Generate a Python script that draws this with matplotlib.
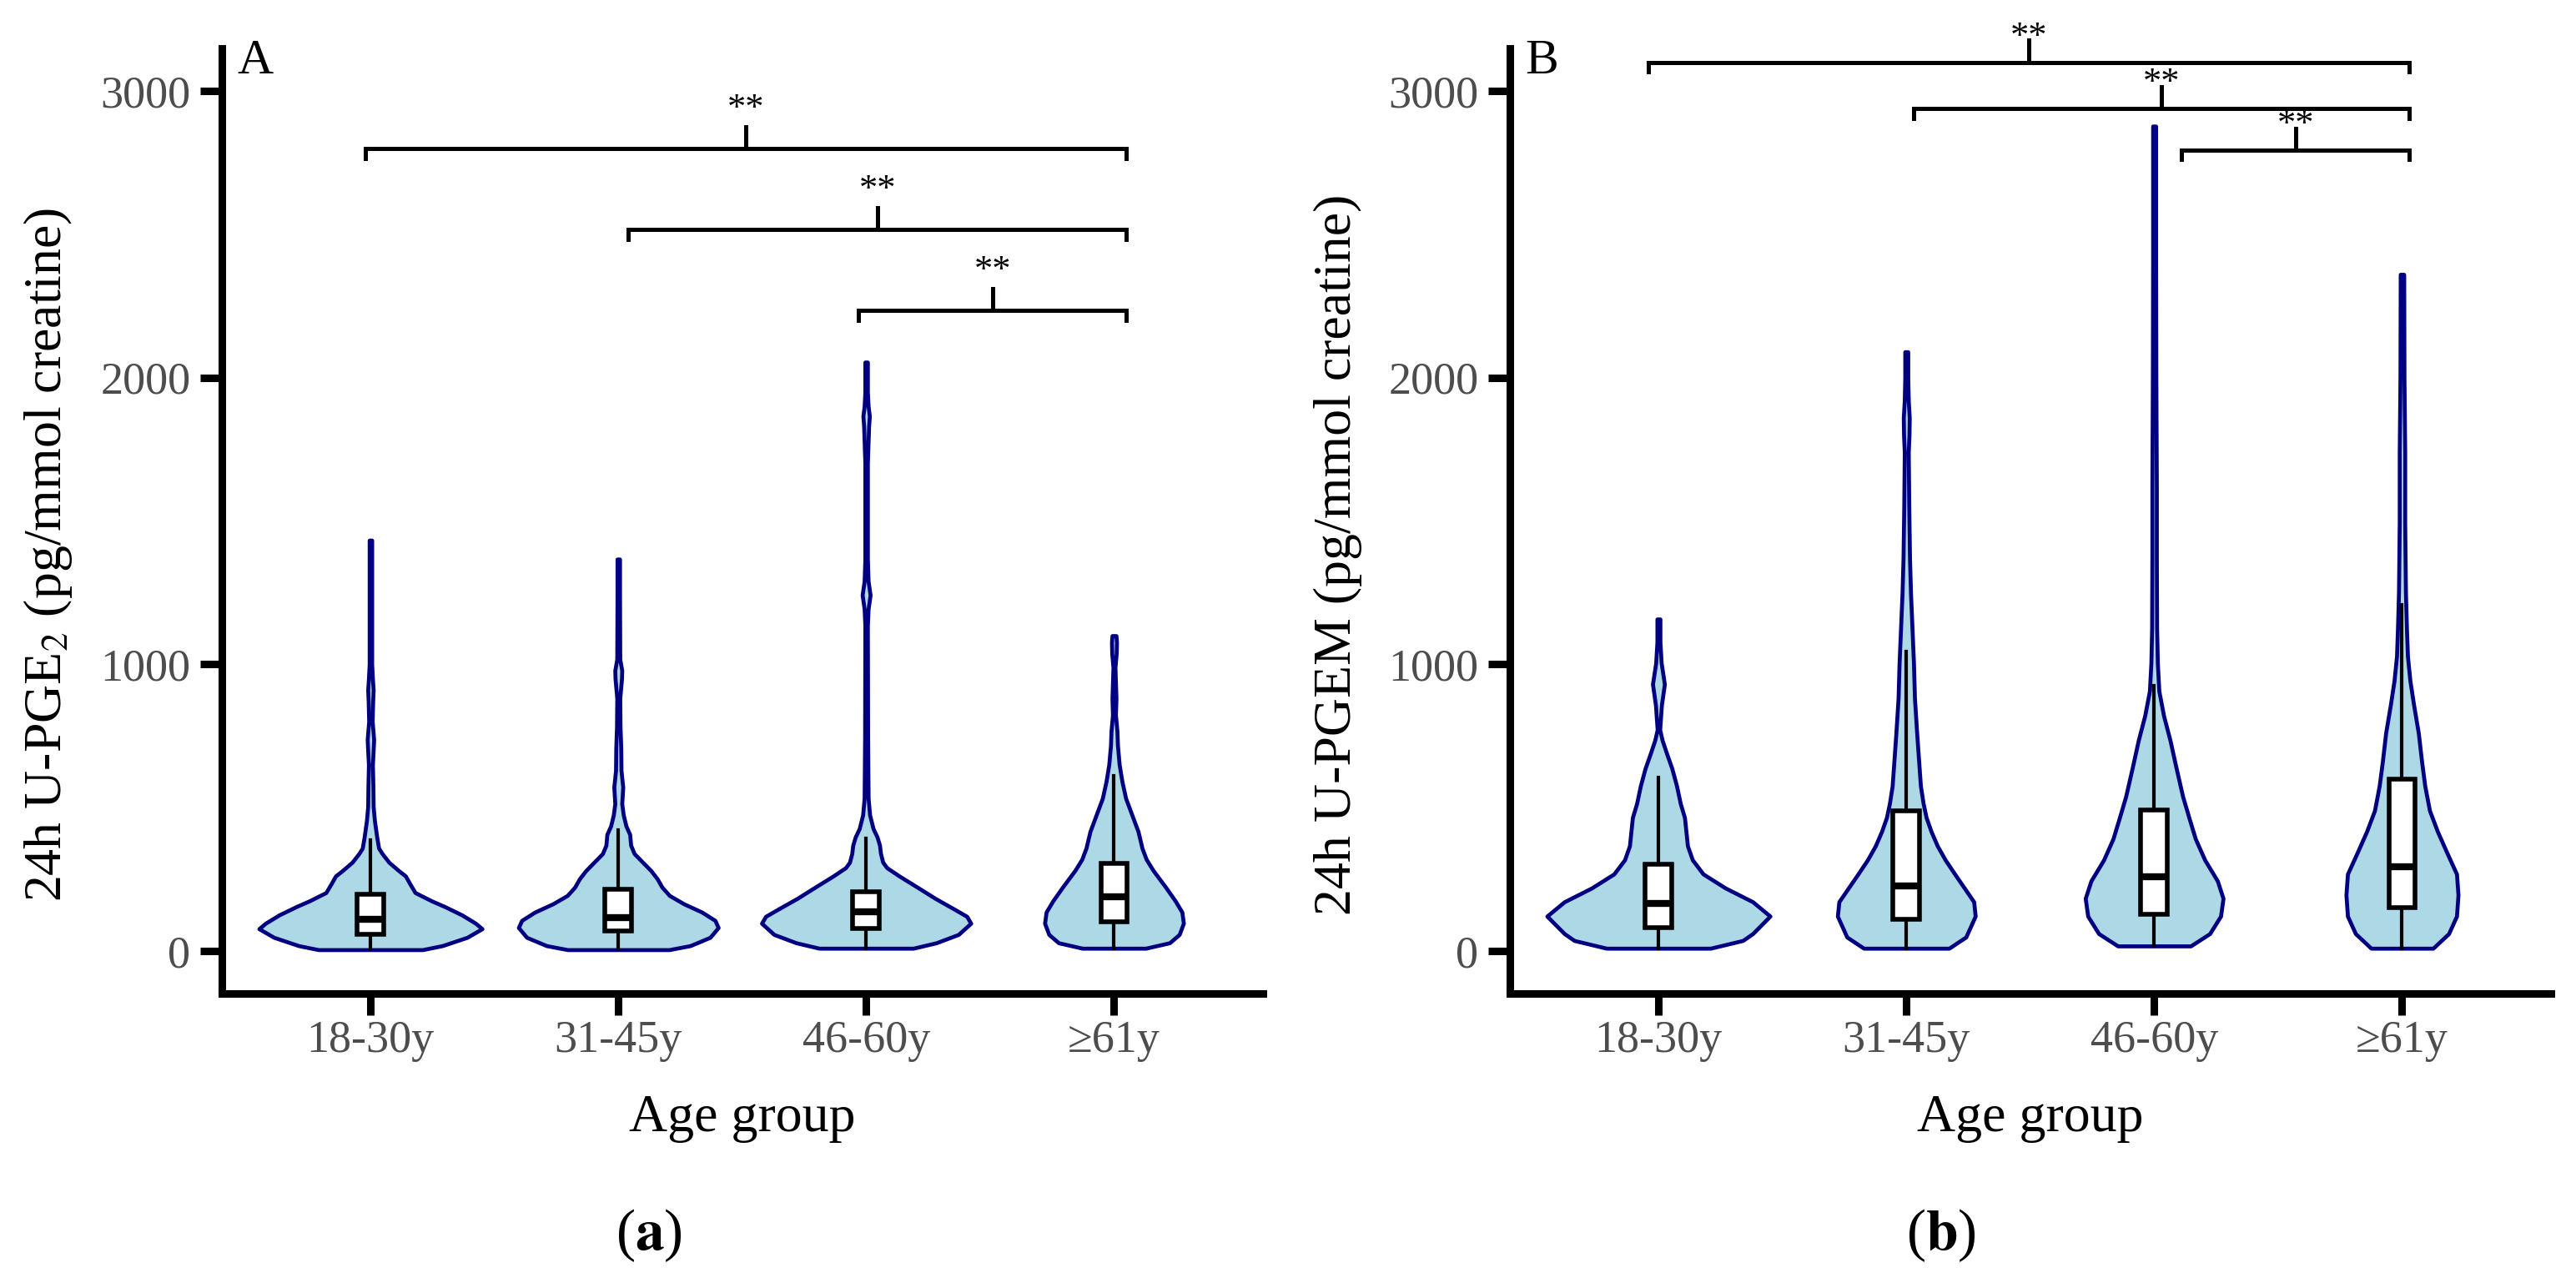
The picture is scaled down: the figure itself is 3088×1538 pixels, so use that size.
import matplotlib
matplotlib.use('Agg')
import matplotlib.pyplot as plt

plt.rcParams['font.family'] = 'Liberation Serif'
plt.rcParams['mathtext.fontset'] = 'stix'

# Categories
groups = ['18-30y', '31-45y', '46-60y', '≥61y']

# Violin outlines: value and half width (x units)
pge2_v = [
    [5, 19, 48, 78, 97, 126, 155, 175, 204, 233, 262, 281, 310, 340, 359, 400, 456, 504, 572, 650,
     700, 737, 770, 800, 870, 911, 950, 1000, 1200, 1433],
    [5, 19, 48, 82, 107, 136, 165, 194, 223, 252, 281, 310, 340, 369, 407, 436, 475, 514, 572, 630,
     708, 785, 882, 950, 979, 1018, 1232, 1367],
    [10, 29, 58, 97, 121, 146, 184, 223, 262, 291, 310, 340, 369, 398, 427, 475, 533, 747, 1135, 1193,
     1242, 1290, 1368, 1700, 1830, 1866, 1900, 1950, 2054],
    [10, 29, 58, 97, 136, 175, 223, 281, 320, 359, 417, 475, 533, 592, 650, 718, 766, 824, 882, 989,
     1038, 1077, 1100],
]
pge2_w = [
    [0.21, 0.29, 0.39, 0.45, 0.424, 0.369, 0.30, 0.247, 0.18, 0.16, 0.141, 0.113, 0.074, 0.047, 0.033,
     0.025, 0.016, 0.011, 0.01, 0.008, 0.011, 0.013, 0.01, 0.007, 0.009, 0.011, 0.008, 0.005, 0.005, 0.005],
    [0.205, 0.29, 0.37, 0.403, 0.39, 0.337, 0.264, 0.206, 0.176, 0.157, 0.131, 0.098, 0.064, 0.05, 0.046,
     0.031, 0.02, 0.014, 0.018, 0.011, 0.01, 0.007, 0.006, 0.013, 0.014, 0.006, 0.005, 0.005],
    [0.19, 0.283, 0.372, 0.422, 0.406, 0.356, 0.278, 0.206, 0.133, 0.083, 0.067, 0.058, 0.054, 0.044,
     0.028, 0.014, 0.008, 0.006, 0.005, 0.008, 0.016, 0.008, 0.005, 0.005, 0.01, 0.013, 0.008, 0.005, 0.005],
    [0.128, 0.224, 0.263, 0.28, 0.274, 0.247, 0.208, 0.158, 0.13, 0.113, 0.097, 0.072, 0.047, 0.032,
     0.021, 0.014, 0.012, 0.006, 0.008, 0.004, 0.009, 0.01, 0.008],
]
pgem_v = [
    [10, 37, 61, 122, 172, 220, 269, 318, 367, 417, 466, 515, 576, 637, 686, 735, 772, 858, 931, 1005,
     1078, 1158],
    [10, 49, 122, 172, 220, 269, 318, 367, 417, 466, 515, 576, 637, 760, 882, 1005, 1127, 1250, 1372,
     1557, 1740, 1800, 1860, 1920, 2000, 2090],
    [18, 61, 122, 184, 245, 318, 392, 466, 539, 637, 735, 821, 907, 1005, 1127, 1372, 1617, 2000, 2400, 2877],
    [10, 61, 122, 196, 269, 343, 417, 490, 576, 662, 760, 858, 943, 1029, 1127, 1250, 1495, 1740, 2000, 2360],
]
pgem_w = [
    [0.21, 0.34, 0.38, 0.45, 0.38, 0.27, 0.18, 0.137, 0.117, 0.111, 0.105, 0.088, 0.073, 0.054, 0.034,
     0.015, 0.005, 0.012, 0.024, 0.011, 0.006, 0.006],
    [0.172, 0.24, 0.278, 0.272, 0.234, 0.195, 0.157, 0.125, 0.1, 0.08, 0.068, 0.057, 0.052, 0.042, 0.033,
     0.029, 0.023, 0.017, 0.013, 0.01, 0.008, 0.011, 0.012, 0.008, 0.006, 0.006],
    [0.147, 0.224, 0.268, 0.278, 0.255, 0.204, 0.166, 0.14, 0.115, 0.089, 0.064, 0.038, 0.019, 0.013,
     0.01, 0.009, 0.009, 0.007, 0.006, 0.006],
    [0.125, 0.188, 0.22, 0.226, 0.22, 0.181, 0.143, 0.111, 0.092, 0.079, 0.066, 0.047, 0.032, 0.022,
     0.018, 0.014, 0.011, 0.011, 0.008, 0.007],
]

# Box plot stats: whisker low, q1, median, q3, whisker high
pge2_box = [[5, 58, 111, 199, 388], [5, 70, 116, 215, 422], [10, 78, 136, 206, 393], [10, 102, 189, 305, 611]]
pgem_box = [[10, 83, 165, 304, 606], [10, 110, 227, 490, 1044], [18, 129, 260, 493, 925], [10, 153, 294, 600, 1207]]

# Significance brackets: x start, x end, bracket height
pge2_sig = [(0.98, 4.05, 2798), (2.04, 4.05, 2516), (2.97, 4.05, 2234)]
pgem_sig = [(0.96, 4.03, 3099), (2.03, 4.03, 2938), (3.11, 4.03, 2793)]

fig = plt.figure(figsize=(30.88, 15.38), dpi=100)
axA = fig.add_axes([0.0861, 0.2256, 0.4041, 0.7367])
axB = fig.add_axes([0.5861, 0.2256, 0.4041, 0.7367])


def draw_panel(ax, vals, widths, boxes, sigs, ylabel, letter, star_off):
    for i in range(4):
        pos = i + 1
        left = [pos - w for w in widths[i]]
        right = [pos + w for w in widths[i]]
        ax.fill_betweenx(vals[i], left, right, facecolor='lightblue', edgecolor='navy', lw=3.4, zorder=2)
    stats = []
    for b in boxes:
        stats.append({'whislo': b[0], 'q1': b[1], 'med': b[2], 'q3': b[3], 'whishi': b[4], 'fliers': []})
    ax.bxp(stats, positions=[1, 2, 3, 4], widths=0.107, showcaps=False, showfliers=False,
           patch_artist=True,
           boxprops=dict(facecolor='white', edgecolor='black', lw=4.0),
           medianprops=dict(color='black', lw=6, solid_capstyle='butt'),
           whiskerprops=dict(color='black', lw=3.0),
           zorder=3)
    for x1, x2, y in sigs:
        xc = (x1 + x2) / 2
        ax.plot([x1, x1, x2, x2], [y - 33, y, y, y - 33], color='black', lw=3.6, clip_on=False,
                solid_joinstyle='miter', zorder=4)
        ax.plot([xc, xc], [y, y + 77], color='black', lw=3.6, clip_on=False, zorder=4)
        ax.text(xc, y + star_off, '**', ha='center', va='baseline', fontsize=32, clip_on=False)

    ax.set_xlim(0.4, 4.6)
    ax.set_ylim(-148, 3148)
    ax.set_xticks([1, 2, 3, 4])
    ax.set_xticklabels(groups)
    ax.set_yticks([0, 1000, 2000, 3000])
    for s in ['top', 'right']:
        ax.spines[s].set_visible(False)
    for s in ['left', 'bottom']:
        ax.spines[s].set_linewidth(6.5)
    ax.tick_params(width=6.5, length=19, labelsize=39, labelcolor='#4D4D4D')
    ax.tick_params(axis='x', pad=4)
    ax.tick_params(axis='y', pad=8)
    ax.set_ylabel(ylabel, fontsize=46)
    ax.yaxis.set_label_coords(-0.142, 0.464)
    ax.set_xlabel('Age group', fontsize=46)
    ax.xaxis.set_label_coords(0.5, -0.107)
    ax.text(0.015, 0.9735, letter, transform=ax.transAxes, fontsize=43, va='baseline', ha='left')


draw_panel(axA, pge2_v, pge2_w, pge2_box, pge2_sig, '24h U-PGE$_2$ (pg/mmol creatine)', 'A', 105)
draw_panel(axB, pgem_v, pgem_w, pgem_box, pgem_sig, '24h U-PGEM (pg/mmol creatine)', 'B', 55)

fig.text(778 / 3088, 0.037, r'($\mathbf{a}$)', ha='center', va='center', fontsize=50)
fig.text(2327 / 3088, 0.037, r'($\mathbf{b}$)', ha='center', va='center', fontsize=50)

fig.savefig('out.png', dpi=100)
